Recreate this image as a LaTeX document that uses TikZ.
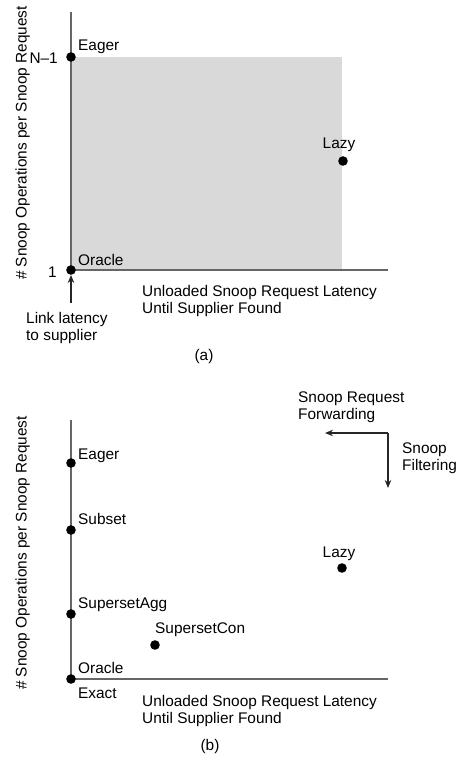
\documentclass[tikz,border=0pt]{standalone}
\usepackage{fontspec}
\setmainfont{Liberation Sans}
\usetikzlibrary{arrows.meta}
\begin{document}
\begin{tikzpicture}[x=1pt,y=-1pt,
  lbl/.style={inner sep=0pt, font=\fontsize{15.4}{17.5}\selectfont, align=left},
  dot/.style={circle, fill=black, inner sep=0pt, minimum size=9.6pt},
  axis/.style={draw=black!60, line width=1.3pt},
  arr/.style={draw=black!85, line width=1.4pt, -{Stealth[length=8pt,width=6.5pt]}}]
\useasboundingbox (0,0) rectangle (459,757);

% ---------- (a) ----------
\fill[black!15] (71,57) rectangle (342,270);
\draw[axis] (71,12) -- (71,270) -- (388,270);
\node[lbl, rotate=90, anchor=base] (ylabA) at (26.5,143) {\# Snoop Operations per Snoop Request};

\node[dot] (eagerA) at (71,57) {};
\node[dot] (lazyA) at (343,161) {};
\node[dot] (oracleA) at (71,270) {};

\node[lbl, anchor=base west] (eagerAt) at (78,51) {Eager};
\node[lbl, anchor=base east] (nmA) at (58,64) {N\textendash 1};
\node[lbl, anchor=base] (lazyAt) at (339,148) {Lazy};
\node[lbl, anchor=base west] (oracleAt) at (78,265) {Oracle};
\node[lbl, anchor=base east] (oneA) at (57,277) {1};

\coordinate (linkA) at (71,303);
\draw[arr] (linkA) -- (oracleA);
% two-line labels: the base anchor sits on the last line
\node[lbl, anchor=base west] (linkAt) at (26,340.5) {Link latency\\to supplier};
\node[lbl, anchor=base west] (xlabA) at (142,313.5) {Unloaded Snoop Request Latency\\Until Supplier Found};
\node[lbl, anchor=base] (capA) at (204,360) {(a)};

% ---------- (b) ----------
\draw[axis] (71,420) -- (71,679) -- (388,679);
\node[lbl, rotate=90, anchor=base] (ylabB) at (26.5,553) {\# Snoop Operations per Snoop Request};

\node[dot] (eagerB) at (71,463) {};
\node[dot] (subsetB) at (71,530) {};
\node[dot] (aggB) at (71,614) {};
\node[dot] (conB) at (155,645) {};
\node[dot] (oracleB) at (71,679) {};
\node[dot] (lazyB) at (342,568) {};

\node[lbl, anchor=base west] (eagerBt) at (78,459) {Eager};
\node[lbl, anchor=base west] (subsetBt) at (78,524) {Subset};
\node[lbl, anchor=base west] (aggBt) at (78,608) {SupersetAgg};
\node[lbl, anchor=base west] (conBt) at (155,633) {SupersetCon};
\node[lbl, anchor=base west] (oracleBt) at (78,673) {Oracle};
\node[lbl, anchor=base west] (exactBt) at (78,698) {Exact};
\node[lbl, anchor=base] (lazyBt) at (339,557) {Lazy};

\node[lbl, anchor=base west] (xlabB) at (142,723.5) {Unloaded Snoop Request Latency\\Until Supplier Found};
\node[lbl, anchor=base] (capB) at (210,750) {(b)};

\coordinate (corner) at (388,433);
\coordinate (fwdEnd) at (325,433);
\coordinate (filtEnd) at (388,488);
\draw[arr] (corner) -- (fwdEnd);
\draw[arr] (corner) -- (filtEnd);
\node[lbl, anchor=base west] (fwdt) at (298,419.5) {Snoop Request\\Forwarding};
\node[lbl, anchor=base west] (filtt) at (402,470.5) {Snoop\\Filtering};
\end{tikzpicture}
\end{document}
